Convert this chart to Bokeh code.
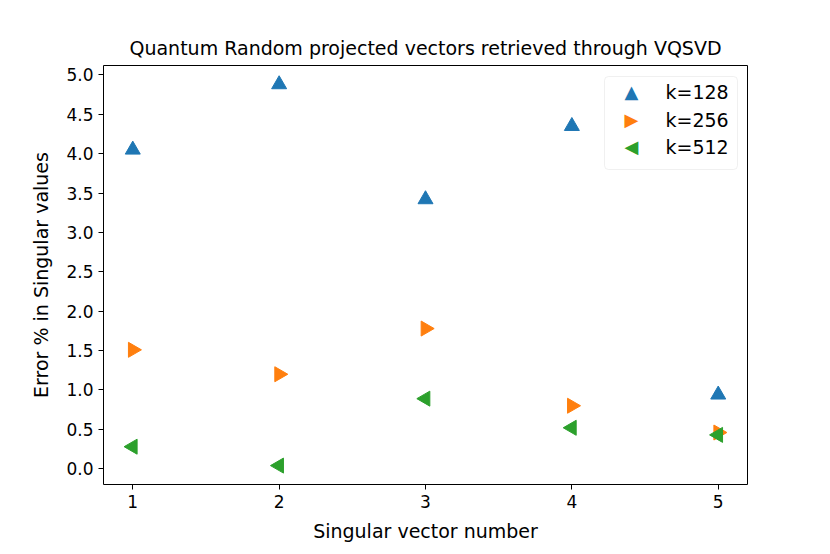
import numpy as np
from bokeh.plotting import figure
from bokeh.models import Range1d, FixedTicker, BoxAnnotation, Label
from bokeh.embed import file_html
from bokeh.resources import INLINE

x_vals = [1, 2, 3, 4, 5]
k128 = [4.05, 4.88, 3.42, 4.35, 0.94]
k256 = [1.51, 1.20, 1.78, 0.80, 0.46]
k512 = [0.28, 0.04, 0.89, 0.52, 0.43]
y_ticks = [0.0, 0.5, 1.0, 1.5, 2.0, 2.5, 3.0, 3.5, 4.0, 4.5, 5.0]
series_labels = ["k=128", "k=256", "k=512"]
series_colors = ["#1f77b4", "#ff7f0e", "#2ca02c"]
legend_symbols = ["\u25B2", "\u25B6", "\u25C0"]

FONT = "DejaVu Sans"

p = figure(output_backend="svg", toolbar_location=None,
           frame_width=644, frame_height=419,
           min_border_left=103, min_border_right=70,
           min_border_top=65, min_border_bottom=62,
           x_range=Range1d(0.8, 5.2), y_range=Range1d(-0.2, 5.12))

p.title.text = "Quantum Random projected vectors retrieved through VQSVD"
p.title.align = "center"
p.title.text_font = FONT
p.title.text_font_size = "19px"
p.title.text_font_style = "normal"
p.title.text_color = "black"
p.title.standoff = 13

p.xgrid.visible = False
p.ygrid.visible = False
p.outline_line_color = "black"
p.outline_line_width = 1

for ax in (p.xaxis[0], p.yaxis[0]):
    ax.major_tick_out = 5
    ax.major_tick_in = 0
    ax.minor_tick_line_color = None
    ax.axis_line_color = None
    ax.major_label_text_font = FONT
    ax.major_label_text_font_size = "17px"
    ax.major_label_text_color = "black"
    ax.axis_label_text_font = FONT
    ax.axis_label_text_font_size = "19px"
    ax.axis_label_text_font_style = "normal"
    ax.axis_label_text_color = "black"
    ax.major_tick_line_color = "black"

p.xaxis.ticker = FixedTicker(ticks=x_vals)
p.yaxis.ticker = FixedTicker(ticks=y_ticks)
p.yaxis.major_label_overrides = {t: f"{t:.1f}" for t in y_ticks}
p.xaxis.axis_label = "Singular vector number"
p.yaxis.axis_label = "Error % in Singular values"
p.xaxis.axis_label_standoff = 9
p.yaxis.axis_label_standoff = 11

p.scatter(x_vals, k128, marker="triangle", size=15, color=series_colors[0])
p.scatter(x_vals, k256, marker="triangle", size=15, angle=-np.pi / 2, color=series_colors[1])
p.scatter(x_vals, k512, marker="triangle", size=15, angle=np.pi / 2, color=series_colors[2])

# manual legend (screen units, frame-relative, y from bottom) keeps marker orientation
box = BoxAnnotation(left=501, right=634, top=408, bottom=315,
                    left_units="screen", right_units="screen",
                    top_units="screen", bottom_units="screen",
                    fill_color="white", fill_alpha=0.8,
                    line_color="#cccccc", line_width=1, border_radius=4)
p.add_layout(box)
row_y = [393, 365, 338]
for i in range(3):
    p.add_layout(Label(x=528, y=row_y[i], x_units="screen", y_units="screen",
                       text=legend_symbols[i], text_font=FONT, text_font_size="18px",
                       text_color=series_colors[i], text_align="center",
                       text_baseline="middle"))
    p.add_layout(Label(x=562, y=row_y[i], x_units="screen", y_units="screen",
                       text=series_labels[i], text_font=FONT, text_font_size="19px",
                       text_color="black", text_align="left",
                       text_baseline="middle"))

open("out.html", "w").write(file_html(p, INLINE))
